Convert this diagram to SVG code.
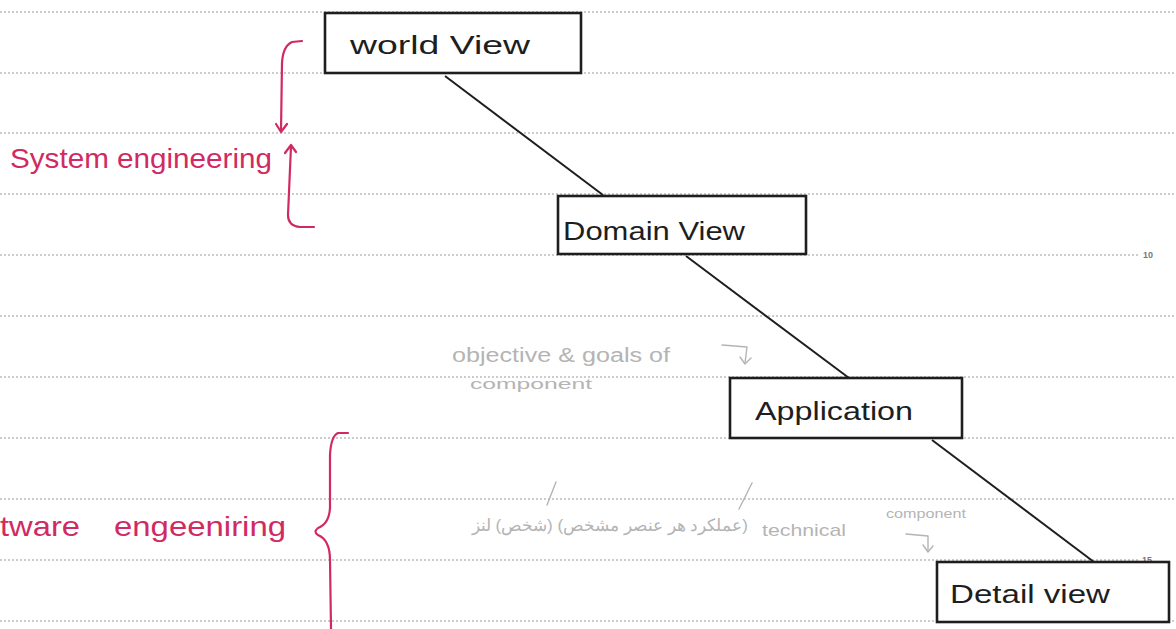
<svg xmlns="http://www.w3.org/2000/svg" width="1176" height="629" viewBox="0 0 1176 629">
  <style>
    .rule { stroke: #9a9a9a; stroke-width: 1.2; stroke-dasharray: 2 2; fill: none; }
    .pagenum { font-family: "Liberation Sans", sans-serif; font-size: 9px; font-weight: bold; fill: #777; }
    .box { fill: #ffffff; stroke: #1e1e1e; stroke-width: 2.6; }
    .label { font-family: "Liberation Sans", sans-serif; font-size: 26px; fill: #1e1e1e; }
    .link { stroke: #1e1e1e; stroke-width: 2; fill: none; }
    .pink { stroke: #d12a63; stroke-width: 2.2; fill: none; stroke-linecap: round; stroke-linejoin: round; }
    .pinktext { font-family: "Liberation Sans", sans-serif; font-size: 28px; fill: #d12a63; }
    .note { font-family: "Liberation Sans", sans-serif; fill: #b4b4b4; }
    .notestroke { stroke: #b4b4b4; stroke-width: 1.4; fill: none; stroke-linecap: round; stroke-linejoin: round; }
  </style>
  <rect width="1176" height="629" fill="#ffffff"/>

  <!-- ruled notebook lines -->
  <g id="rules">
    <line class="rule" x1="0" y1="12" x2="1176" y2="12"/>
    <line class="rule" x1="0" y1="73" x2="1176" y2="73"/>
    <line class="rule" x1="0" y1="133" x2="1176" y2="133"/>
    <line class="rule" x1="0" y1="194" x2="1176" y2="194"/>
    <line class="rule" x1="0" y1="255" x2="1139" y2="255"/>
    <line class="rule" x1="0" y1="316" x2="1176" y2="316"/>
    <line class="rule" x1="0" y1="377" x2="1176" y2="377"/>
    <line class="rule" x1="0" y1="438" x2="1176" y2="438"/>
    <line class="rule" x1="0" y1="499" x2="1176" y2="499"/>
    <line class="rule" x1="0" y1="560" x2="1139" y2="560"/>
    <line class="rule" x1="0" y1="621" x2="1176" y2="621"/>
    <text class="pagenum" x="1143" y="258">10</text>
    <text class="pagenum" x="1142" y="563">15</text>
  </g>

  <!-- connectors between views -->
  <g id="connectors">
    <line class="link" x1="445" y1="76" x2="603" y2="195"/>
    <line class="link" x1="686" y1="256" x2="849" y2="378"/>
    <line class="link" x1="932" y1="440" x2="1094" y2="562"/>
  </g>

  <g id="world-view">
    <rect class="box" x="325" y="13" width="256" height="60"/>
    <text class="label" x="350" y="54" textLength="180" lengthAdjust="spacingAndGlyphs">world View</text>
  </g>

  <g id="domain-view">
    <rect class="box" x="558" y="196" width="248" height="58"/>
    <text class="label" x="563" y="240" textLength="182" lengthAdjust="spacingAndGlyphs">Domain View</text>
  </g>

  <g id="application">
    <rect class="box" x="730" y="378" width="232" height="60"/>
    <text class="label" x="755" y="420" textLength="158" lengthAdjust="spacingAndGlyphs">Application</text>
  </g>

  <g id="detail-view">
    <rect class="box" x="937" y="562" width="232" height="60"/>
    <text class="label" x="950" y="603" textLength="160" lengthAdjust="spacingAndGlyphs">Detail view</text>
  </g>

  <!-- system engineering span -->
  <g id="system-engineering">
    <path class="pink" d="M302,41 L292,42 Q283,46 282,63 L281,131"/>
    <path class="pink" d="M276,124 L281,132 L287,124"/>
    <path class="pink" d="M291,146 L288,215 Q288,226 300,227 L314,227"/>
    <path class="pink" d="M285,153 L291,145 L296,152"/>
    <text class="pinktext" x="10" y="168" textLength="262" lengthAdjust="spacingAndGlyphs">System engineering</text>
  </g>

  <!-- software engineering span -->
  <g id="software-engineering">
    <path class="pink" d="M348,433 L338,433 Q331,436 330,455 L330,508 Q329,524 318,528 Q313,532 318,535 Q330,540 330,560 L331,629"/>
    <text class="pinktext" x="0" y="536" textLength="80" lengthAdjust="spacingAndGlyphs">tware</text>
    <text class="pinktext" x="114" y="536" textLength="172" lengthAdjust="spacingAndGlyphs">engeeniring</text>
  </g>

  <!-- pencil notes -->
  <g id="notes">
    <text class="note" x="452" y="362" font-size="20" textLength="218" lengthAdjust="spacingAndGlyphs">objective &amp; goals of</text>
    <text class="note" x="470" y="389" font-size="15" textLength="122" lengthAdjust="spacingAndGlyphs">component</text>
    <path class="notestroke" d="M722,345 L747,347 L745,363"/>
    <path class="notestroke" d="M740,357 L745,364 L751,358"/>

    <path class="notestroke" d="M556,482 L547,505"/>
    <path class="notestroke" d="M752,483 L739,509"/>
    <text class="note" x="748" y="531" font-size="17" text-anchor="start" direction="rtl" unicode-bidi="embed" font-family="DejaVu Sans, sans-serif">(عملکرد هر عنصر مشخص) (شخص) لنز</text>
    <text class="note" x="762" y="536" font-size="17" textLength="84" lengthAdjust="spacingAndGlyphs">technical</text>
    <text class="note" x="886" y="518" font-size="12" textLength="80" lengthAdjust="spacingAndGlyphs">component</text>
    <path class="notestroke" d="M906,534 L928,536 L928,551"/>
    <path class="notestroke" d="M923,545 L928,552 L933,546"/>
  </g>
</svg>
